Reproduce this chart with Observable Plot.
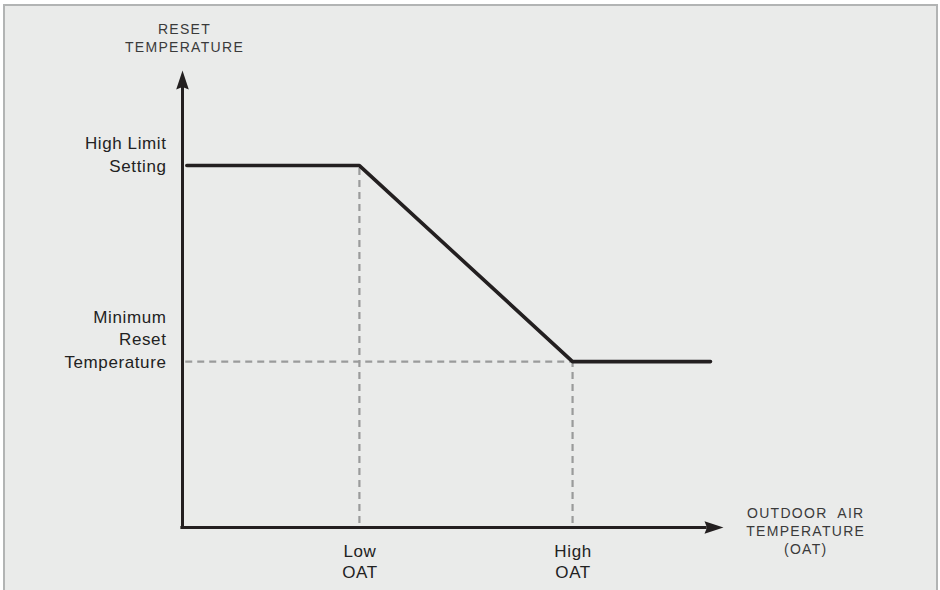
<!DOCTYPE html>
<html>
<head>
<meta charset="utf-8">
<script src="https://cdn.jsdelivr.net/npm/d3@7"></script>
<script src="https://cdn.jsdelivr.net/npm/@observablehq/plot@0.6"></script>
<style>
  html, body { margin: 0; padding: 0; background: #ffffff; }
  #bg {
    position: absolute; left: 3px; top: 4px; width: 931px; height: 590px;
    background: #eaebea; border: 2px solid #b2b4b4; border-bottom: none;
  }
  #chart { position: absolute; left: 0; top: 0; }
  #chart svg { overflow: visible; }
</style>
</head>
<body>
<div id="bg"></div>
<div id="chart"></div>
<script>
// Conceptual OAT reset schedule (axis units 0–100)
const oatLabels = ["Low\nOAT", "High\nOAT"];
const oatValues = [32.7, 72.1];
const resetLabels = ["High Limit\nSetting", "Minimum\nReset\nTemperature"];
const resetValues = [79.2, 36.3];
const curveX = [0.8, 32.7, 72.1, 97.6];
const curveY = [79.2, 79.2, 36.3, 36.3];
const yAxisTitle = "RESET\nTEMPERATURE";
const xAxisTitle = "OUTDOOR  AIR\nTEMPERATURE\n(OAT)";

const curve = curveX.map((x, i) => ({x, y: curveY[i]}));

const arrowHead = {
  draw(ctx) {
    ctx.moveTo(0, 0);
    ctx.lineTo(6.3, 19);
    ctx.lineTo(0, 16.5);
    ctx.lineTo(-6.3, 19);
    ctx.closePath();
  }
};

const ink = "#231f20";
const dash = "#9a9b9b";

const chart = Plot.plot({
  width: 940,
  height: 590,
  marginLeft: 182,
  marginRight: 217,
  marginTop: 70,
  marginBottom: 63,
  x: {domain: [0, 100], axis: null},
  y: {domain: [0, 100], axis: null},
  style: {
    background: "transparent",
    fontFamily: "'Liberation Sans', Arial, sans-serif",
    fontSize: "17px",
    color: ink
  },
  marks: [
    // dashed guides
    Plot.ruleX(oatValues, {x: d => d, y1: 0.9, y2: (d, i) => resetValues[i],
      stroke: dash, strokeWidth: 2.2, strokeDasharray: "7,5"}),
    Plot.ruleY([resetValues[1]], {y: d => d, x1: 0.6, x2: oatValues[1],
      stroke: dash, strokeWidth: 2.2, strokeDasharray: "7,5"}),
    // axes
    Plot.ruleX([0], {y1: -0.35, y2: 96.5, stroke: ink, strokeWidth: 3}),
    Plot.ruleY([0], {x1: -0.3, x2: 97, stroke: ink, strokeWidth: 3}),
    Plot.dot([{x: 0, y: 100, r: 0}], {x: "x", y: "y", symbol: arrowHead, fill: ink, stroke: "none"}),
    Plot.dot([{x: 100, y: 0, r: 90}], {x: "x", y: "y", symbol: arrowHead, rotate: "r", fill: ink, stroke: "none"}),
    // reset curve
    Plot.line(curve, {x: "x", y: "y", stroke: ink, strokeWidth: 3.6, strokeLinejoin: "miter"}),
    // y labels
    Plot.text(resetLabels, {x: 0, y: (d, i) => resetValues[i], text: d => d,
      textAnchor: "end", lineAnchor: "bottom", dx: -16, dy: 6, lineHeight: 1.32,
      fill: "#222222", fontSize: 17}),
    // x labels
    Plot.text(oatLabels, {x: (d, i) => oatValues[i], y: 0, text: d => d,
      textAnchor: "middle", lineAnchor: "top", dx: 0.5, dy: 14, lineHeight: 1.27,
      fill: "#222222", fontSize: 17}),
    // axis titles
    Plot.text([yAxisTitle], {x: 0, y: 100, text: d => d, textAnchor: "middle",
      lineAnchor: "bottom", dx: 2, dy: -19, lineHeight: 1.28, fill: "#3a3a3a",
      fontSize: 14}),
    Plot.text([xAxisTitle], {x: 115.2, y: 0, text: d => d, textAnchor: "middle",
      lineAnchor: "middle", dx: 0, dy: 3, lineHeight: 1.28, fill: "#3a3a3a",
      fontSize: 14})
  ]
});

d3.select(chart).selectAll("text").style("letter-spacing", function() {
  const fs = this.closest("g").getAttribute("font-size");
  return fs === "14" ? "1.3px" : "0.6px";
});

document.getElementById("chart").append(chart);
</script>
</body>
</html>
